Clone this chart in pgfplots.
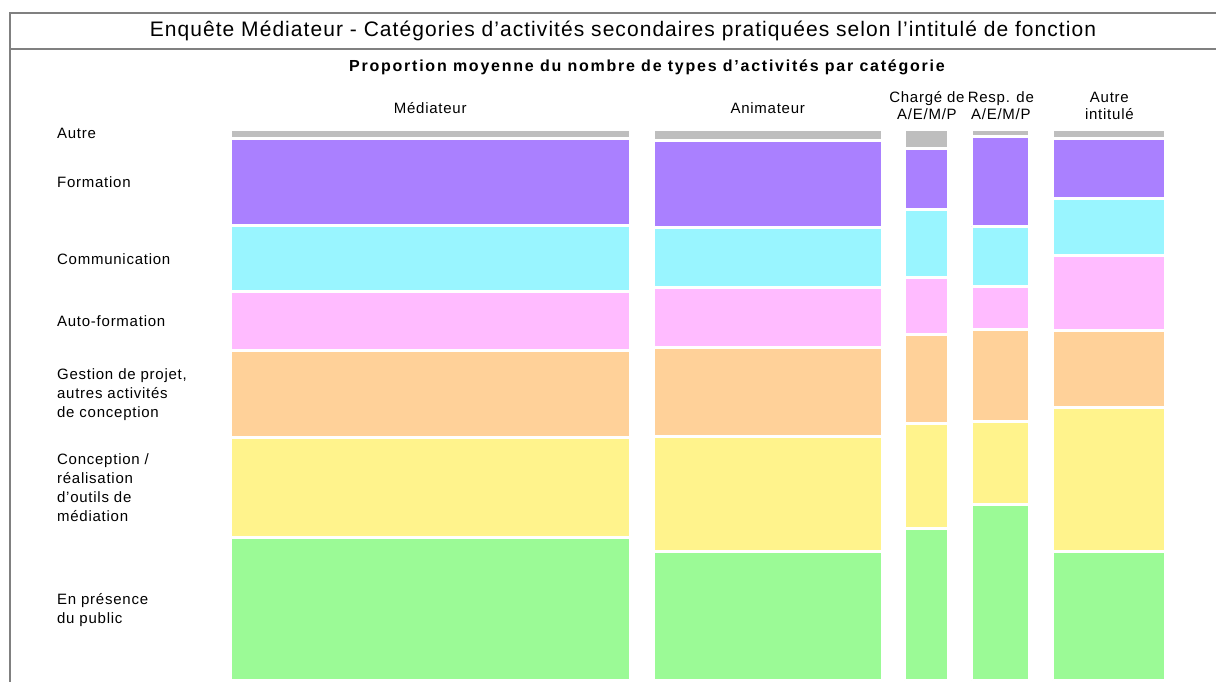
\documentclass[border=0pt]{standalone}
\usepackage{fontspec}
\setmainfont{Liberation Sans}
\newfontfamily\lbl[LetterSpace=5]{Liberation Sans}
\newfontfamily\sub[LetterSpace=11]{Liberation Sans}
\newfontfamily\ttl[LetterSpace=5]{Liberation Sans}
\usepackage{pgfplots}
\pgfplotsset{compat=1.18}

\definecolor{cAutre}{RGB}{190,190,190}
\definecolor{cForm}{RGB}{170,128,255}
\definecolor{cComm}{RGB}{153,245,255}
\definecolor{cAuto}{RGB}{255,187,255}
\definecolor{cGest}{RGB}{255,209,153}
\definecolor{cConc}{RGB}{255,243,140}
\definecolor{cPres}{RGB}{155,250,150}
\definecolor{frame}{RGB}{128,128,128}

\begin{document}
\begin{tikzpicture}
\useasboundingbox (0,0) rectangle (608pt,-341pt);
% frame and title
\draw[frame, line width=1pt] (608pt,-6.5pt) -- (5pt,-6.5pt) -- (5pt,-341pt);
\draw[frame, line width=1pt] (5pt,-24.5pt) -- (608pt,-24.5pt);
\node[font=\fontsize{10.5}{12}\selectfont\ttl] at (311.5pt,-15.5pt)
  {Enquête Médiateur - Catégories d’activités secondaires pratiquées selon l’intitulé de fonction};
\node[font=\fontsize{8}{10}\selectfont\sub\bfseries] at (323.5pt,-33.5pt)
  {Proportion moyenne du nombre de types d’activités par catégorie};

% mosaic: column widths = share of respondents, heights = mean share of activity types
\begin{axis}[
  at={(114.25pt,-340.75pt)}, anchor=south west,
  scale only axis, width=469.5pt, height=276.5pt,
  xmin=-0.18, xmax=110.98, ymin=-0.27, ymax=100.27,
  hide axis, clip=false,
  unbounded coords=jump,
  seg/.style={fill=#1, draw=white, line width=1.5pt},
]
% En presence du public
\addplot[seg=cPres] coordinates {
 (0,0)(47.4,0)(47.4,25.9)(0,25.9)(0,0)(0,nan)
 (50.1,0)(77.2,0)(77.2,23.4)(50.1,23.4)(50.1,0)(0,nan)
 (79.9,0)(85.1,0)(85.1,27.5)(79.9,27.5)(79.9,0)(0,nan)
 (87.8,0)(94.7,0)(94.7,32.0)(87.8,32.0)(87.8,0)(0,nan)
 (97.4,0)(110.8,0)(110.8,23.3)(97.4,23.3)(97.4,0)};
% Conception / realisation
\addplot[seg=cConc] coordinates {
 (0,25.9)(47.4,25.9)(47.4,44.1)(0,44.1)(0,25.9)(0,nan)
 (50.1,23.4)(77.2,23.4)(77.2,44.2)(50.1,44.2)(50.1,23.4)(0,nan)
 (79.9,27.5)(85.1,27.5)(85.1,46.7)(79.9,46.7)(79.9,27.5)(0,nan)
 (87.8,32.0)(94.7,32.0)(94.7,47.0)(87.8,47.0)(87.8,32.0)(0,nan)
 (97.4,23.3)(110.8,23.3)(110.8,49.6)(97.4,49.6)(97.4,23.3)};
% Gestion de projet
\addplot[seg=cGest] coordinates {
 (0,44.1)(47.4,44.1)(47.4,59.9)(0,59.9)(0,44.1)(0,nan)
 (50.1,44.2)(77.2,44.2)(77.2,60.5)(50.1,60.5)(50.1,44.2)(0,nan)
 (79.9,46.7)(85.1,46.7)(85.1,62.8)(79.9,62.8)(79.9,46.7)(0,nan)
 (87.8,47.0)(94.7,47.0)(94.7,63.8)(87.8,63.8)(87.8,47.0)(0,nan)
 (97.4,49.6)(110.8,49.6)(110.8,63.5)(97.4,63.5)(97.4,49.6)};
% Auto-formation
\addplot[seg=cAuto] coordinates {
 (0,59.9)(47.4,59.9)(47.4,70.6)(0,70.6)(0,59.9)(0,nan)
 (50.1,60.5)(77.2,60.5)(77.2,71.4)(50.1,71.4)(50.1,60.5)(0,nan)
 (79.9,62.8)(85.1,62.8)(85.1,73.1)(79.9,73.1)(79.9,62.8)(0,nan)
 (87.8,63.8)(94.7,63.8)(94.7,71.6)(87.8,71.6)(87.8,63.8)(0,nan)
 (97.4,63.5)(110.8,63.5)(110.8,77.1)(97.4,77.1)(97.4,63.5)};
% Communication
\addplot[seg=cComm] coordinates {
 (0,70.6)(47.4,70.6)(47.4,82.6)(0,82.6)(0,70.6)(0,nan)
 (50.1,71.4)(77.2,71.4)(77.2,82.2)(50.1,82.2)(50.1,71.4)(0,nan)
 (79.9,73.1)(85.1,73.1)(85.1,85.5)(79.9,85.5)(79.9,73.1)(0,nan)
 (87.8,71.6)(94.7,71.6)(94.7,82.5)(87.8,82.5)(87.8,71.6)(0,nan)
 (97.4,77.1)(110.8,77.1)(110.8,87.5)(97.4,87.5)(97.4,77.1)};
% Formation
\addplot[seg=cForm] coordinates {
 (0,82.6)(47.4,82.6)(47.4,98.5)(0,98.5)(0,82.6)(0,nan)
 (50.1,82.2)(77.2,82.2)(77.2,98.1)(50.1,98.1)(50.1,82.2)(0,nan)
 (79.9,85.5)(85.1,85.5)(85.1,96.6)(79.9,96.6)(79.9,85.5)(0,nan)
 (87.8,82.5)(94.7,82.5)(94.7,98.9)(87.8,98.9)(87.8,82.5)(0,nan)
 (97.4,87.5)(110.8,87.5)(110.8,98.4)(97.4,98.4)(97.4,87.5)};
% Autre
\addplot[seg=cAutre] coordinates {
 (0,98.5)(47.4,98.5)(47.4,100)(0,100)(0,98.5)(0,nan)
 (50.1,98.1)(77.2,98.1)(77.2,100)(50.1,100)(50.1,98.1)(0,nan)
 (79.9,96.6)(85.1,96.6)(85.1,100)(79.9,100)(79.9,96.6)(0,nan)
 (87.8,98.9)(94.7,98.9)(94.7,100)(87.8,100)(87.8,98.9)(0,nan)
 (97.4,98.4)(110.8,98.4)(110.8,100)(97.4,100)(97.4,98.4)};

% row labels
\begin{scope}[every node/.style={anchor=west, align=left,
    font=\fontsize{7.5}{9.5}\selectfont\lbl}]
\node at (axis cs:-21.3,99.3) {Autre};
\node at (axis cs:-21.3,90.5) {Formation};
\node at (axis cs:-21.3,76.5) {Communication};
\node at (axis cs:-21.3,65.2) {Auto-formation};
\node at (axis cs:-21.3,51.9) {Gestion de projet,\\autres activités\\de conception};
\node at (axis cs:-21.3,35.0) {Conception /\\réalisation\\d’outils de\\médiation};
\node at (axis cs:-21.3,12.8) {En présence\\du public};
\end{scope}
% column headers
\begin{scope}[every node/.style={align=center,
    font=\fontsize{7.5}{8.5}\selectfont\lbl}]
\node at (axis cs:23.7,104) {Médiateur};
\node at (axis cs:63.65,104) {Animateur};
\node at (axis cs:82.5,104.4) {Chargé de\\A/E/M/P};
\node at (axis cs:91.25,104.4) {Resp. de\\A/E/M/P};
\node at (axis cs:104.1,104.4) {Autre\\intitulé};
\end{scope}
\end{axis}
\end{tikzpicture}
\end{document}
